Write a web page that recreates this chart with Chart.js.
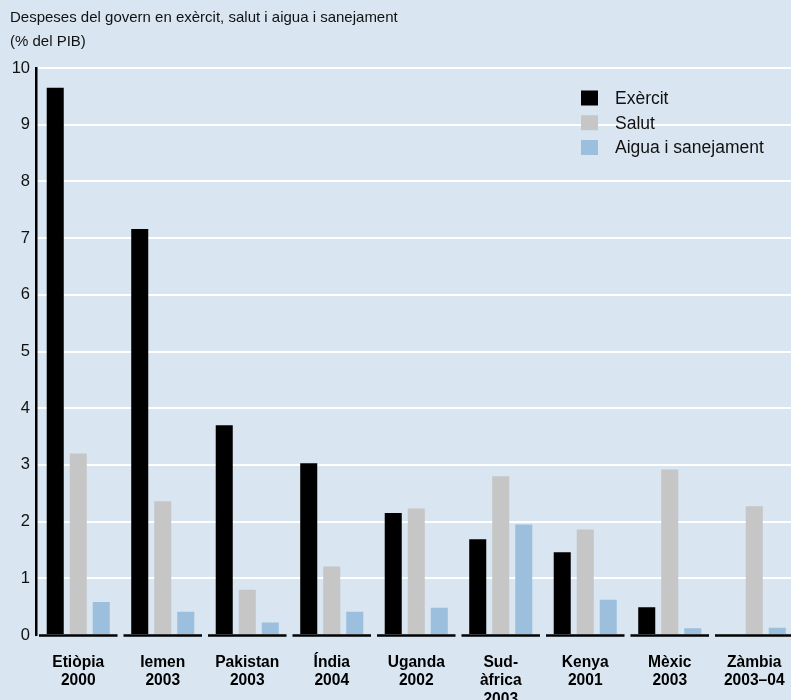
<!DOCTYPE html>
<html>
<head>
<meta charset="utf-8">
<script src="https://cdn.jsdelivr.net/npm/chart.js@4.4.1/dist/chart.umd.min.js"></script>
<style>
    html, body { margin: 0; padding: 0; background: #d9e6f1; overflow: hidden; }
    canvas { display: block; }
</style>
</head>
<body>
<canvas id="myChart" width="800" height="700"></canvas>
<script>
'use strict';

var categories = [
    ['Etiòpia', '2000'],
    ['Iemen', '2003'],
    ['Pakistan', '2003'],
    ['Índia', '2004'],
    ['Uganda', '2002'],
    ['Sud-', 'àfrica', '2003'],
    ['Kenya', '2001'],
    ['Mèxic', '2003'],
    ['Zàmbia', '2003–04']
];
var seriesNames = ['Exèrcit', 'Salut', 'Aigua i sanejament'];
var militaryValues = [9.65, 7.16, 3.70, 3.03, 2.15, 1.69, 1.46, 0.49, 0];
var healthValues = [3.20, 2.36, 0.80, 1.21, 2.23, 2.80, 1.86, 2.92, 2.27];
var waterValues = [0.58, 0.41, 0.22, 0.41, 0.48, 1.95, 0.62, 0.12, 0.13];
var yMin = 0, yMax = 10, yStep = 1;
var titleLines = ['Despeses del govern en exèrcit, salut i aigua i sanejament', '(% del PIB)'];

(function () {
    var FONT = '"Liberation Sans", Arial, sans-serif';
    var colors = ['#000000', '#c6c6c6', '#9bbfdd'];

    // black baseline, one piece per country group
    var groupBaseline = {
        id: 'groupBaseline',
        afterDatasetsDraw: function (chart) {
            var xScale = chart.scales.x, yScale = chart.scales.y;
            var ctx = chart.ctx;
            var half = xScale.width / categories.length / 2 - 3;
            var y0 = yScale.getPixelForValue(0) + 0.5;
            var i, cx;
            ctx.save();
            ctx.strokeStyle = '#000';
            ctx.lineWidth = 2.5;
            for (i = 0; i < categories.length; i++) {
                cx = xScale.getPixelForValue(i);
                ctx.beginPath();
                ctx.moveTo(cx - half, y0);
                ctx.lineTo(cx + half, y0);
                ctx.stroke();
            }
            ctx.restore();
        }
    };

    // legend drawn inside the plot, top right
    var boxLegend = {
        id: 'boxLegend',
        afterDraw: function (chart) {
            var ctx = chart.ctx;
            var cy;
            ctx.save();
            ctx.font = '17.5px ' + FONT;
            ctx.textBaseline = 'middle';
            ctx.textAlign = 'left';
            chart.data.datasets.forEach(function (ds, i) {
                cy = 98 + i * 24.75;
                ctx.fillStyle = ds.backgroundColor;
                ctx.fillRect(581, cy - 7.5, 17, 15);
                ctx.fillStyle = '#111';
                ctx.fillText(ds.label, 615, cy + 1);
            });
            ctx.restore();
        }
    };

    var ctx = document.getElementById('myChart');
    var myChart = new Chart(ctx, {
        type: 'bar',
        data: {
            labels: categories,
            datasets: [
                { label: seriesNames[0], data: militaryValues, backgroundColor: colors[0] },
                { label: seriesNames[1], data: healthValues, backgroundColor: colors[1] },
                { label: seriesNames[2], data: waterValues, backgroundColor: colors[2] }
            ]
        },
        options: {
            responsive: false,
            animation: false,
            devicePixelRatio: 1,
            categoryPercentage: 0.817,
            barPercentage: 0.74,
            layout: { padding: { left: 10, right: 3.5, top: 0, bottom: 0 } },
            plugins: {
                legend: { display: false },
                tooltip: { enabled: false },
                title: {
                    display: true,
                    text: titleLines,
                    align: 'start',
                    color: '#111',
                    font: { family: FONT, size: 15, weight: 'normal', lineHeight: 1.6 },
                    padding: { top: 6, bottom: 14 }
                }
            },
            scales: {
                x: {
                    grid: { display: false },
                    border: { display: false },
                    ticks: {
                        color: '#000',
                        font: { family: FONT, size: 15.6, weight: 'bold', lineHeight: 1.2 },
                        padding: 10,
                        maxRotation: 0,
                        autoSkip: false
                    },
                    afterFit: function (scale) { scale.height = 65; }
                },
                y: {
                    min: yMin,
                    max: yMax,
                    grid: {
                        color: function (c) { return c.tick && c.tick.value === 0 ? 'rgba(0,0,0,0)' : '#ffffff'; },
                        lineWidth: 2,
                        drawTicks: false
                    },
                    border: { color: '#000', width: 2.5 },
                    ticks: {
                        stepSize: yStep,
                        color: '#111',
                        font: { family: FONT, size: 16.5 },
                        padding: 6
                    },
                    afterFit: function (scale) { scale.width = 26; }
                }
            }
        },
        plugins: [groupBaseline, boxLegend]
    });
})();
</script>
</body>
</html>
